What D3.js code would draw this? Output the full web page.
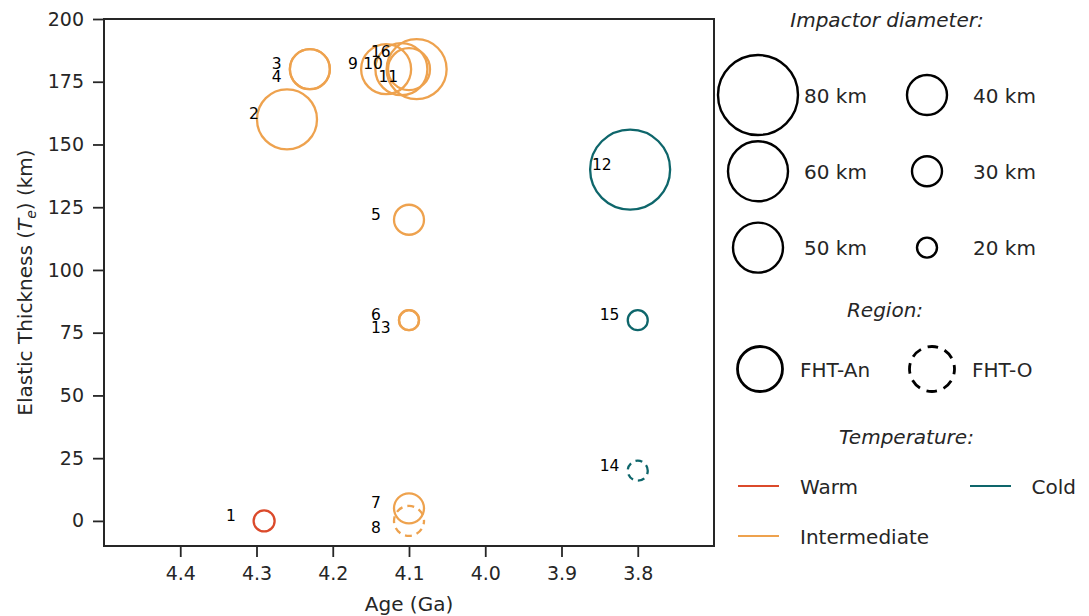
<!DOCTYPE html>
<html>
<head>
<meta charset="utf-8">
<script src="https://cdn.jsdelivr.net/npm/d3@7"></script>
<style>
  body { margin: 0; background: #fff; }
  text { font-family: "DejaVu Sans", sans-serif; }
</style>
</head>
<body>
<script>
var width = 1089;
var height = 616;
var margin = {top: 19, right: 375, bottom: 70, left: 104};
var w = width - margin.left - margin.right;
var h = height - margin.top - margin.bottom;

// crater data
var ids      = [1, 2, 3, 4, 5, 6, 7, 8, 9, 10, 11, 12, 13, 14, 15, 16];
var ages     = [4.29, 4.26, 4.23, 4.23, 4.10, 4.10, 4.10, 4.10, 4.13, 4.11, 4.09, 3.81, 4.10, 3.80, 3.80, 4.10];
var te       = [0, 160, 180, 180, 120, 80, 5, 0, 180, 180, 180, 140, 80, 20, 80, 180];
var diameter = [21, 60, 40, 40, 30, 20, 30, 30, 50, 52, 60, 80, 20, 20, 20, 42];
var region   = ["FHT-An", "FHT-An", "FHT-An", "FHT-An", "FHT-An", "FHT-An", "FHT-An", "FHT-O",
                "FHT-An", "FHT-An", "FHT-An", "FHT-An", "FHT-An", "FHT-O", "FHT-An", "FHT-An"];
var temp     = ["Warm", "Intermediate", "Intermediate", "Intermediate", "Intermediate", "Intermediate",
                "Intermediate", "Intermediate", "Intermediate", "Intermediate", "Intermediate", "Cold",
                "Intermediate", "Cold", "Cold", "Intermediate"];
// label shift in Te units so stacked numbers don't overlap
var labelShift = [0, 0, 0, -5, 0, 0, 0, -5, 0, 0, -5, 0, -5, 0, 0, 5];

var xTicks = [4.4, 4.3, 4.2, 4.1, 4.0, 3.9, 3.8];
var yTicks = [0, 25, 50, 75, 100, 125, 150, 175, 200];

var legendSizes = [80, 60, 50, 40, 30, 20];
var legendRegions = ["FHT-An", "FHT-O"];
var legendTemps = ["Warm", "Intermediate", "Cold"];

var dataset = ids.map(function(id, i) {
  return {id: id, age: ages[i], te: te[i], d: diameter[i], region: region[i], temp: temp[i], dy: labelShift[i]};
});

var col = d3.scaleOrdinal()
    .domain(["Warm", "Intermediate", "Cold"])
    .range(["#db4a2b", "#eea24e", "#0e666b"]);

var ink = "#262626";

var svg = d3.select("body").append("svg")
    .attr("width", width)
    .attr("height", height);

var chart = svg.append("g")
    .attr("transform", "translate(" + margin.left + "," + margin.top + ")");

var x = d3.scaleLinear()
    .domain([4.5, 3.7])
    .range([0, w]);

var y = d3.scaleLinear()
    .domain([-10, 200])
    .range([h, 0]);

// marker radius in px from impactor diameter in km
var r = d3.scaleLinear()
    .domain([0, 80])
    .range([0, 40]);

var xAxis = chart.append("g")
    .attr("transform", "translate(0," + h + ")")
    .call(d3.axisBottom(x).tickValues(xTicks).tickFormat(d3.format(".1f")).tickSize(11).tickPadding(10));

var yAxis = chart.append("g")
    .call(d3.axisLeft(y).tickValues(yTicks).tickSize(11).tickPadding(9));

[xAxis, yAxis].forEach(function(a) {
  a.select(".domain").remove();
  a.selectAll(".tick line").attr("stroke", ink).attr("stroke-width", 1.8);
  a.selectAll(".tick text").attr("fill", ink).style("font-size", "19px").style("font-family", "DejaVu Sans");
});

chart.append("rect")
    .attr("width", w)
    .attr("height", h)
    .attr("fill", "none")
    .attr("stroke", ink)
    .attr("stroke-width", 2);

chart.append("text")
    .attr("x", w / 2)
    .attr("y", h + 65)
    .attr("text-anchor", "middle")
    .attr("fill", ink)
    .style("font-size", "20px")
    .text("Age (Ga)");

var ylab = chart.append("text")
    .attr("transform", "translate(" + (32 - margin.left) + "," + (h / 2) + ") rotate(-90)")
    .attr("text-anchor", "middle")
    .attr("fill", ink)
    .style("font-size", "20px");
ylab.append("tspan").text("Elastic Thickness (");
ylab.append("tspan").style("font-style", "italic").text("T");
ylab.append("tspan").style("font-style", "italic").style("font-size", "14px").attr("dy", 4).text("e");
ylab.append("tspan").attr("dy", -4).text(") (km)");

// data circles
chart.selectAll("circle.crater")
    .data(dataset)
  .enter().append("circle")
    .attr("class", "crater")
    .attr("cx", function(d) { return x(d.age); })
    .attr("cy", function(d) { return y(d.te); })
    .attr("r", function(d) { return r(d.d); })
    .attr("fill", "none")
    .attr("stroke", function(d) { return col(d.temp); })
    .attr("stroke-width", 2.3)
    .attr("stroke-dasharray", function(d) { return d.region == "FHT-O" ? "7,5" : null; })
    .attr("stroke-dashoffset", 3.5);

chart.selectAll("text.num")
    .data(dataset)
  .enter().append("text")
    .attr("class", "num")
    .attr("x", function(d) { return x(d.age + 0.05); })
    .attr("y", function(d) { return y(d.te + d.dy); })
    .attr("fill", "#000")
    .style("font-size", "15.5px")
    .text(function(d) { return d.id; });

// legend
var legend = svg.append("g");

function legendTitle(label, cx, by) {
  legend.append("text")
      .attr("x", cx)
      .attr("y", by)
      .attr("text-anchor", "middle")
      .attr("fill", ink)
      .style("font-size", "20px")
      .style("font-style", "italic")
      .text(label);
}

function legendLabel(label, lx, cy) {
  legend.append("text")
      .attr("x", lx)
      .attr("y", cy + 7.5)
      .attr("fill", ink)
      .style("font-size", "20px")
      .text(label);
}

legendTitle("Impactor diameter:", 887, 26.5);

legendSizes.forEach(function(s, i) {
  var c = Math.floor(i / 3), row = i % 3;
  var cx = 758 + c * 169, cy = 95 + row * 76.3;
  legend.append("circle")
      .attr("cx", cx)
      .attr("cy", cy)
      .attr("r", r(s))
      .attr("fill", "none")
      .attr("stroke", "#000")
      .attr("stroke-width", 2.4);
  legendLabel(s + " km", 804 + c * 169, cy);
});

legendTitle("Region:", 885, 316.5);

legendRegions.forEach(function(g, i) {
  var cx = 760 + i * 172, cy = 369;
  legend.append("circle")
      .attr("cx", cx)
      .attr("cy", cy)
      .attr("r", 22.5)
      .attr("fill", "none")
      .attr("stroke", "#000")
      .attr("stroke-width", 2.8)
      .attr("stroke-dasharray", g == "FHT-O" ? "10.7,7" : null)
      .attr("stroke-dashoffset", 5.35);
  legendLabel(g, 800 + i * 172, cy);
});

legendTitle("Temperature:", 906.5, 443.5);

legendTemps.forEach(function(t, i) {
  var c = Math.floor(i / 2), row = i % 2;
  var lx = 738 + c * 232, ly = 486 + row * 50;
  legend.append("line")
      .attr("x1", lx)
      .attr("x2", lx + 41)
      .attr("y1", ly)
      .attr("y2", ly)
      .attr("stroke", col(t))
      .attr("stroke-width", 2);
  legendLabel(t, 800 + c * 231.5, ly);
});
</script>
</body>
</html>
